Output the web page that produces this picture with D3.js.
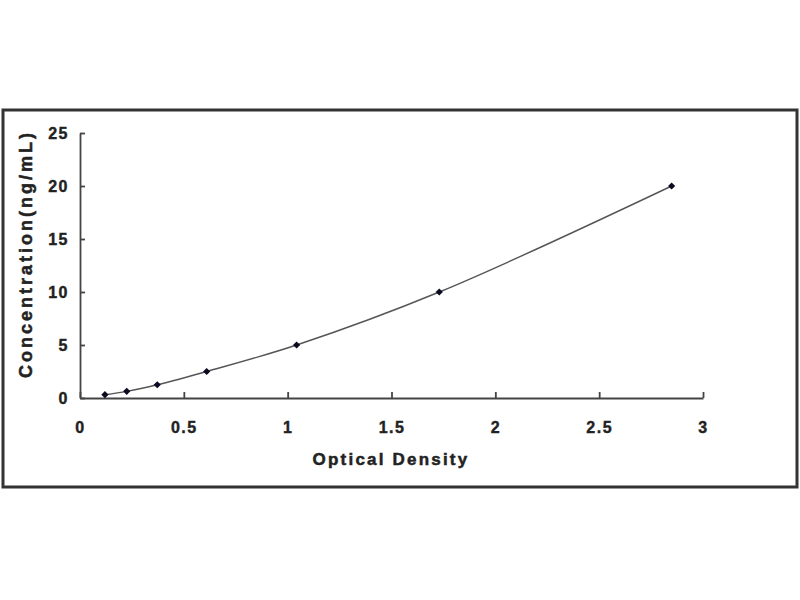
<!DOCTYPE html>
<html>
<head>
<meta charset="utf-8">
<script src="https://cdn.jsdelivr.net/npm/d3@7"></script>
<style>
  body { margin: 0; background: #fff; }
  svg { display: block; }
  .axis text { font-family: "Liberation Sans", Arial, sans-serif; font-weight: bold; font-size: 16px; letter-spacing: 1.5px; fill: #222; stroke: #222; stroke-width: 0.4px; }
  .axis path, .axis line { stroke: #444; stroke-width: 1.8px; }
  .title { font-family: "Liberation Sans", Arial, sans-serif; font-weight: bold; font-size: 17px; fill: #222; stroke: #222; stroke-width: 0.5px; }
</style>
</head>
<body>
<svg width="800" height="600"></svg>
<script>
// standard curve points
const opticalDensity = [0.12, 0.225, 0.372, 0.61, 1.043, 1.73, 2.849];
const concentration = [0.312, 0.625, 1.25, 2.5, 5, 10, 20];
const xTicks = [0, 0.5, 1, 1.5, 2, 2.5, 3];
const yTicks = [0, 5, 10, 15, 20, 25];

const svg = d3.select("svg");

// outer chart frame
svg.append("rect")
  .attr("x", 3).attr("y", 110)
  .attr("width", 794).attr("height", 377)
  .attr("fill", "#fff")
  .attr("stroke", "#333")
  .attr("stroke-width", 3);

const x = d3.scaleLinear().domain([0, 3]).range([80, 703]);
const y = d3.scaleLinear().domain([0, 25]).range([398, 133]);

// ticks point inward like the original
svg.append("g")
  .attr("class", "axis")
  .attr("transform", "translate(0,398)")
  .call(d3.axisBottom(x).tickValues(xTicks).tickFormat(d3.format("")).tickSizeInner(-6).tickSizeOuter(0).tickPadding(24));

svg.append("g")
  .attr("class", "axis")
  .attr("transform", "translate(80,0)")
  .call(d3.axisLeft(y).tickValues(yTicks).tickSizeInner(-5).tickSizeOuter(0).tickPadding(11));

const pts = opticalDensity.map((d, i) => [d, concentration[i]]);

const line = d3.line()
  .x(d => x(d[0]))
  .y(d => y(d[1]))
  .curve(d3.curveCatmullRom.alpha(0.5));

svg.append("path")
  .datum(pts)
  .attr("d", line)
  .attr("fill", "none")
  .attr("stroke", "#555")
  .attr("stroke-width", 1.4);

svg.selectAll(".pt")
  .data(pts)
  .enter().append("path")
  .attr("class", "pt")
  .attr("transform", d => `translate(${x(d[0])},${y(d[1])}) rotate(45)`)
  .attr("d", d3.symbol(d3.symbolSquare, 26))
  .attr("fill", "#0a0a20");

svg.append("text")
  .attr("class", "title")
  .attr("x", 391).attr("y", 465)
  .attr("text-anchor", "middle")
  .attr("letter-spacing", "2.2px")
  .text("Optical Density");

svg.append("text")
  .attr("class", "title")
  .attr("transform", "translate(32,254) rotate(-90)")
  .attr("text-anchor", "middle")
  .attr("letter-spacing", "3px")
  .style("font-size", "18px")
  .text("Concentration(ng/mL)");
</script>
</body>
</html>
